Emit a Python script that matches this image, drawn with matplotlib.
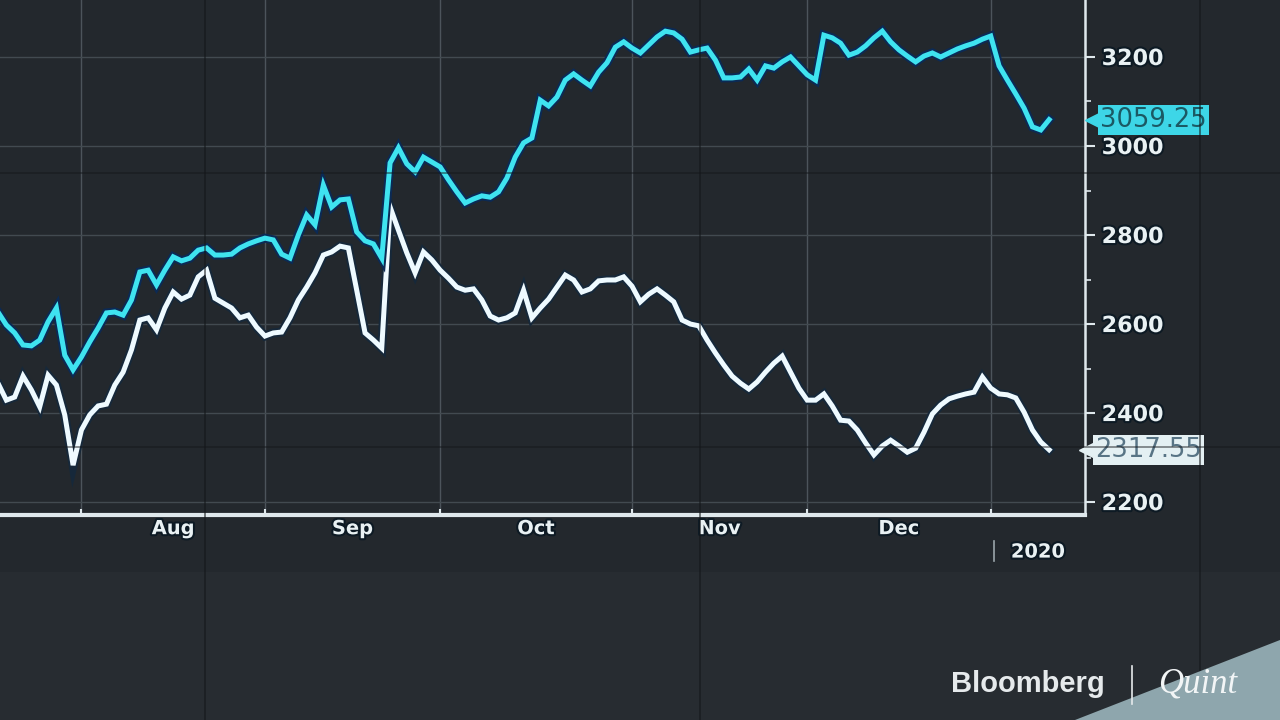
import numpy as np
import pandas as pd
import matplotlib
matplotlib.use("Agg")
import matplotlib.pyplot as plt
import matplotlib.patheffects as pe
import matplotlib.transforms as mtransforms
from matplotlib.lines import Line2D
from matplotlib.patches import Polygon

# trading days shown on the screen
dates = pd.bdate_range("2019-07-18", "2020-01-10")

cyan_vals = [
    2627, 2598, 2580, 2553, 2551, 2564, 2605, 2636, 2530, 2497,
    2526, 2560, 2591, 2625, 2627, 2620, 2654, 2717, 2721, 2688,
    2721, 2751, 2742, 2748, 2766, 2771, 2755, 2755, 2757, 2771,
    2780, 2787, 2793, 2789, 2757, 2748, 2800, 2845, 2823, 2912,
    2863, 2879, 2881, 2807, 2787, 2780, 2748, 2962, 2996, 2960,
    2942, 2975, 2964, 2953, 2924, 2897, 2872, 2881, 2888, 2885,
    2897, 2928, 2975, 3007, 3018, 3103, 3090, 3110, 3148, 3162,
    3148, 3135, 3166, 3187, 3222, 3234, 3220, 3209, 3227, 3245,
    3258, 3254, 3240, 3211, 3216, 3220, 3193, 3153, 3153, 3155,
    3173, 3148, 3180, 3175, 3189, 3200, 3180, 3160, 3148, 3249,
    3243, 3231, 3204, 3211, 3225, 3243, 3258, 3234, 3216, 3202,
    3189, 3202, 3209, 3200, 3209, 3218, 3225, 3231, 3240, 3247,
    3180, 3148, 3117, 3085, 3043, 3036, 3059.25,
]

white_vals = [
    2467, 2429, 2436, 2483, 2452, 2414, 2485, 2463, 2396, 2283,
    2362, 2396, 2416, 2420, 2463, 2492, 2542, 2609, 2614, 2587,
    2636, 2672, 2656, 2665, 2706, 2721, 2658, 2647, 2636, 2614,
    2620, 2593, 2573, 2580, 2582, 2614, 2654, 2683, 2715, 2755,
    2762, 2775, 2771, 2676, 2580, 2564, 2546, 2863, 2811, 2760,
    2715, 2762, 2744, 2721, 2703, 2683, 2676, 2679, 2654, 2618,
    2609, 2614, 2625, 2676, 2614, 2636, 2656, 2683, 2710, 2699,
    2672, 2679, 2697, 2699, 2699, 2706, 2685, 2650, 2667, 2679,
    2665, 2650, 2609, 2600, 2596, 2564, 2535, 2508, 2483, 2467,
    2454, 2470, 2492, 2512, 2528, 2492, 2456, 2429, 2429, 2443,
    2416, 2384, 2382, 2362, 2333, 2306, 2326, 2339, 2326, 2312,
    2321, 2357, 2398, 2418, 2432, 2438, 2443, 2447, 2481, 2456,
    2443, 2441, 2434, 2402, 2362, 2335, 2317.55,
]

y_ticks = [2200, 2400, 2600, 2800, 3000, 3200]
month_names = ["Aug", "Sep", "Oct", "Nov", "Dec"]
year_label = "2020"

BG = "#23282d"
CYAN = "#3fe3f0"
WHITE = "#eefaff"
TXT = "#e9f1f3"

x = np.arange(len(dates))

fig = plt.figure(figsize=(12.8, 7.2), dpi=100, facecolor=BG)
ax = fig.add_axes([0, 1 - 515 / 720, 1085 / 1280, 515 / 720])
ax.set_facecolor(BG)
ax.set_xlim(0.24, 130.3)
ax.set_ylim(2171, 3328)

# month boundaries
months = dates.month
starts = [i for i in range(1, len(dates)) if months[i] != months[i - 1]]
for s in starts:
    ax.axvline(s, color="#4c545b", lw=1.0, zorder=1)
for v in y_ticks:
    ax.axhline(v, color="#424a50", lw=1.0, zorder=1)

glow_c = [pe.Stroke(linewidth=6.5, foreground="#0b2a55"), pe.Normal()]
glow_w = [pe.Stroke(linewidth=6.5, foreground="#16283a"), pe.Normal()]
ax.plot(x, white_vals, color=WHITE, lw=3.6, zorder=3, path_effects=glow_w,
        solid_joinstyle="miter")
ax.plot(x, cyan_vals, color=CYAN, lw=3.6, zorder=4, path_effects=glow_c,
        solid_joinstyle="miter")

outline = [pe.withStroke(linewidth=3, foreground="#0d1a24")]

# spines
for side in ["left", "top"]:
    ax.spines[side].set_visible(False)
ax.spines["bottom"].set_color("#dfe8ec")
ax.spines["bottom"].set_linewidth(3)
ax.spines["right"].set_color("#dfe8ec")
ax.spines["right"].set_linewidth(1.8)

# y axis on the right
ax.yaxis.tick_right()
ax.set_yticks(y_ticks)
ax.set_yticks(np.arange(2300, 3300, 200), minor=True)
ax.tick_params(axis="y", which="major", length=7, width=1.5, colors="#dfe8ec",
               labelsize=16, pad=5)
ax.tick_params(axis="y", which="minor", length=4, width=1.2, colors="#dfe8ec")
for lab in ax.get_yticklabels():
    lab.set_fontweight("bold")
    lab.set_color(TXT)
    lab.set_path_effects(outline)

# x axis: ticks at month starts, labels centred in each month
ax.set_xticks(starts)
ax.set_xticklabels([])
ax.tick_params(axis="x", which="major", length=4, width=1.5, colors="#dfe8ec",
               direction="in")
centers = [(starts[k] + starts[k + 1]) / 2 for k in range(len(starts) - 1)]
ax.set_xticks(centers, minor=True)
ax.set_xticklabels(month_names, minor=True)
ax.tick_params(axis="x", which="minor", length=0, labelsize=14, pad=3)
for lab in ax.get_xticklabels(minor=True):
    lab.set_fontweight("bold")
    lab.set_color(TXT)
    lab.set_path_effects(outline)

trans = mtransforms.blended_transform_factory(ax.transData, ax.transAxes)
jan_c = (starts[-1] + ax.get_xlim()[1]) / 2
ax.text(jan_c, -0.072, year_label, transform=trans, ha="center", va="center",
        fontsize=14, fontweight="bold", color=TXT, path_effects=outline)
ax.add_line(Line2D([starts[-1] + 0.4] * 2, [-0.05, -0.09], transform=trans,
                   color="#9aa5ab", lw=1.2, clip_on=False))

# last-value tags
tr = mtransforms.blended_transform_factory(ax.transAxes, ax.transData)
ax.plot([1.009], [cyan_vals[-1]], marker="<", ms=14, color="#3dd6e7",
        transform=tr, clip_on=False, zorder=5)
ax.text(1.014, cyan_vals[-1], f"{cyan_vals[-1]:.2f}", transform=tr,
        ha="left", va="center", fontsize=18.5, color="#1b5964",
        bbox=dict(boxstyle="square,pad=0.08", fc="#3dd6e7", ec="none"),
        zorder=6)
ax.plot([1.004], [white_vals[-1]], marker="<", ms=14, color="#e4f0f3",
        transform=tr, clip_on=False, zorder=5)
ax.text(1.009, white_vals[-1], f"{white_vals[-1]:.2f}", transform=tr,
        ha="left", va="center", fontsize=18.5, color="#587485",
        bbox=dict(boxstyle="square,pad=0.08", fc="#e4f0f3", ec="none"),
        zorder=6)

# video-wall seams and lower screen
fig.add_artist(Polygon([[0, 0], [1, 0], [1, 1 - 572 / 720], [0, 1 - 572 / 720]],
                       closed=True, fc="#272c31", ec="none", zorder=0,
                       transform=fig.transFigure))
for xp in [205, 700, 1200]:
    fig.add_artist(Line2D([xp / 1280] * 2, [0, 1], color="#14171a", lw=1.3,
                          alpha=0.6, transform=fig.transFigure, zorder=7))
for yp in [173, 447]:
    fig.add_artist(Line2D([0, 1], [1 - yp / 720] * 2, color="#14171a", lw=1.3,
                          alpha=0.5, transform=fig.transFigure, zorder=7))

# watermark
fig.add_artist(Polygon([[1075 / 1280, 0], [1, 80 / 720], [1, 0]], closed=True,
                       fc="#8ea6ad", ec="none", zorder=8,
                       transform=fig.transFigure))
fig.text(1028 / 1280, 1 - 684 / 720, "Bloomberg", ha="center", va="center",
         fontsize=21, fontweight="bold", family="Liberation Sans",
         color="#e6eaec", zorder=9)
fig.add_artist(Line2D([1132 / 1280] * 2, [1 - 666 / 720, 1 - 704 / 720],
                      color="#e6eaec", lw=1.2, transform=fig.transFigure,
                      zorder=9))
fig.text(1198 / 1280, 1 - 684 / 720, "Quint", ha="center", va="center",
         fontsize=25, style="italic", family="Liberation Serif",
         color="#f2f5f6", zorder=9)

fig.savefig("out.png", dpi=100, facecolor=fig.get_facecolor())
